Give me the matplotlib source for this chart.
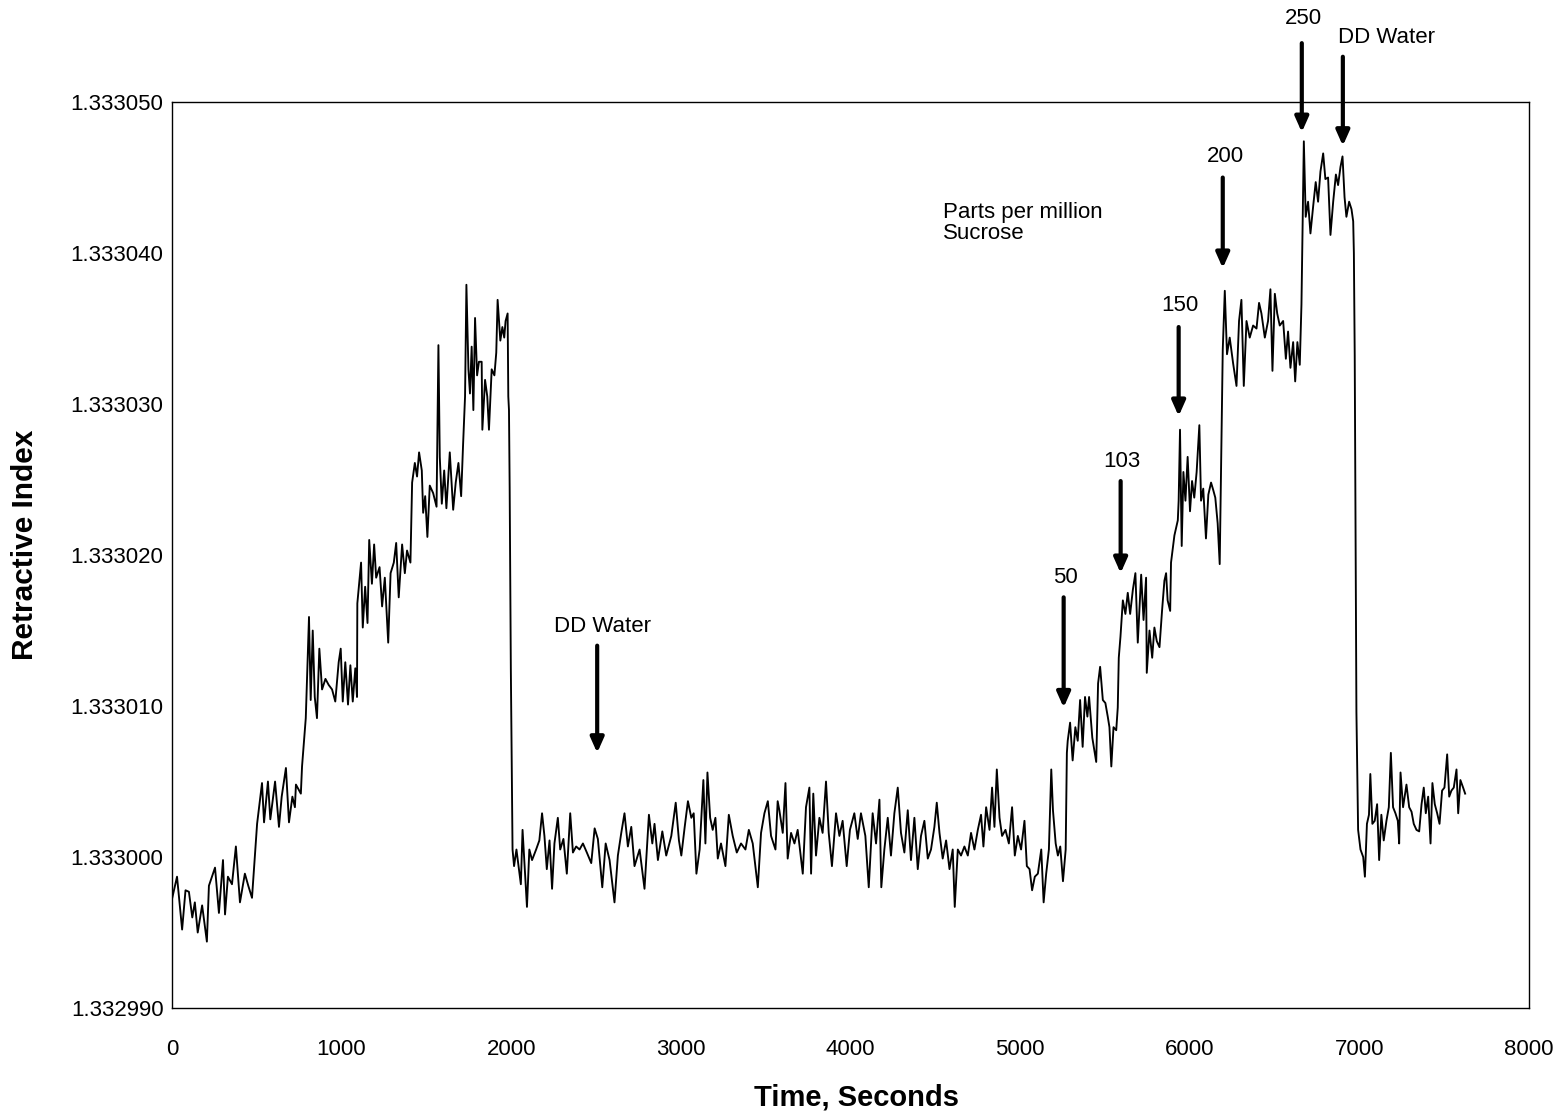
import matplotlib
matplotlib.use("Agg")
import matplotlib.pyplot as plt
from matplotlib.ticker import FormatStrFormatter

plt.rcParams['font.family'] = ['Liberation Sans', 'DejaVu Sans']

# Time (s) and refractive-index deviation from 1.333000 (units of 1e-6)
time_s = [
    0, 30, 60, 80, 100, 120, 135, 152, 178, 206, 218, 254, 277, 301, 313, 330, 354, 377, 401, 430, 450, 472, 484,
    502, 531, 543, 566, 580, 608, 631, 647, 672, 690, 710, 725, 731, 760, 767, 779,
    789, 808, 818, 830, 842, 855, 869, 885, 905, 924, 944, 963, 983, 995, 1007, 1022, 1038, 1052, 1066, 1081, 1091,
    1093, 1115, 1125, 1139, 1153, 1163, 1179, 1192, 1204, 1224, 1239, 1255, 1275, 1289, 1308, 1322, 1337, 1357, 1373, 1386, 1406,
    1416, 1432, 1445, 1457, 1473, 1481, 1493, 1506, 1520, 1540, 1560, 1571, 1579, 1591, 1605, 1618, 1638, 1658, 1673, 1689, 1705, 1716, 1728,
    1736, 1748, 1757, 1767, 1777, 1787, 1799, 1810, 1826, 1830, 1846, 1859, 1869, 1885, 1901, 1912, 1920, 1936, 1948, 1959, 1967, 1979, 1983, 1987, 1991, 1998,
    2008, 2017, 2031, 2057, 2067, 2083, 2093, 2107, 2123, 2147, 2166, 2182, 2196, 2210, 2226, 2241, 2255, 2275, 2289, 2308, 2328, 2348, 2364, 2383, 2403,
    2423, 2446, 2472, 2492, 2511, 2537, 2557, 2580, 2609, 2629, 2649, 2668, 2688, 2708, 2727, 2757, 2786, 2812, 2832, 2845, 2865, 2891, 2914, 2944, 2970,
    2989, 3003, 3023, 3042, 3062, 3076, 3092, 3111, 3133, 3145, 3157, 3173, 3188, 3204, 3218, 3237, 3263, 3283, 3306, 3330, 3355, 3381, 3401, 3424, 3454,
    3473, 3493, 3513, 3532, 3558, 3571, 3581, 3601, 3617, 3630, 3650, 3670, 3689, 3709, 3719, 3738, 3758, 3768, 3781, 3797, 3817, 3836, 3856, 3872, 3891,
    3915, 3935, 3954, 3978, 3997, 4023, 4043, 4062, 4088, 4108, 4131, 4151, 4171, 4182, 4200, 4220, 4239, 4259, 4279, 4298, 4318, 4338, 4357, 4377, 4397,
    4416, 4436, 4456, 4475, 4495, 4509, 4525, 4544, 4564, 4584, 4603, 4615, 4633, 4652, 4672, 4692, 4711, 4731, 4751, 4770, 4784, 4800, 4820, 4835, 4849,
    4863, 4879, 4894, 4914, 4934, 4953, 4969, 4987, 5006, 5026, 5040, 5056, 5071, 5087, 5105, 5125, 5139, 5154, 5170, 5184, 5194, 5210, 5223, 5237, 5253, 5269,
    5276, 5281, 5295, 5310, 5326, 5340, 5354, 5369, 5383, 5397, 5407, 5426, 5449, 5460, 5472, 5488, 5503, 5517, 5527, 5538, 5551, 5567, 5576,
    5582, 5592, 5606, 5621, 5635, 5649, 5665, 5680, 5694, 5714, 5728, 5743, 5747, 5763, 5779, 5792, 5806, 5822, 5837, 5851, 5861, 5870, 5885, 5890, 5910, 5930,
    5935, 5943, 5953, 5963, 5975, 5988, 6002, 6014, 6027, 6041, 6057, 6067, 6080, 6096, 6110, 6126, 6139, 6151, 6165, 6177, 6185, 6195, 6207,
    6220, 6236, 6256, 6276, 6291, 6305, 6319, 6335, 6354, 6374, 6394, 6409, 6423, 6443, 6462, 6476, 6488, 6502, 6516, 6531, 6551, 6567, 6580, 6594, 6610, 6622, 6635, 6649, 6659,
    6673, 6684, 6698, 6712, 6728, 6743, 6757, 6771, 6787, 6800, 6816, 6830, 6846, 6862, 6875, 6889, 6901, 6913, 6924, 6940, 6954, 6964, 6968, 6973, 6979, 6983,
    6993, 7007, 7023, 7033, 7045, 7057, 7065, 7077, 7091, 7105, 7117, 7130, 7144, 7160, 7174, 7186, 7199, 7213, 7227, 7235, 7243, 7258, 7278, 7294, 7308,
    7321, 7337, 7353, 7367, 7380, 7392, 7406, 7420, 7431, 7445, 7459, 7473, 7488, 7502, 7518, 7530, 7543, 7557, 7573, 7583, 7596, 7612, 7624,
]
ri_delta_e6 = [
    -2.8, -1.3, -4.8, -2.2, -2.3, -4.0, -3.0, -5.0, -3.2, -5.6, -1.9, -0.7, -3.7, -0.2, -3.8, -1.3, -1.8, 0.7, -3.0, -1.1, -1.9, -2.7, -0.7,
    2.2, 4.9, 2.3, 5.0, 2.5, 5.0, 2.0, 4.0, 5.9, 2.3, 4.0, 3.3, 4.8, 4.2, 6.0, 7.7,
    9.2, 15.9, 10.4, 15.0, 10.6, 9.2, 13.8, 11.1, 11.8, 11.4, 11.1, 10.3, 12.9, 13.8, 10.3, 12.9, 10.1, 12.7, 10.3, 12.5, 10.6,
    16.8, 19.5, 15.2, 17.9, 15.5, 21.0, 18.1, 20.7, 18.5, 19.2, 16.6, 18.5, 14.2, 18.8, 19.5, 20.8, 17.2, 20.7, 18.8, 20.3, 19.5,
    24.8, 26.1, 25.2, 26.8, 25.6, 22.8, 23.9, 21.2, 24.6, 24.1, 23.2, 33.9, 26.5, 23.4, 25.6, 23.1, 26.8, 23.0, 24.8, 26.1, 23.9, 27.2, 30.5,
    37.9, 32.3, 30.7, 33.8, 29.6, 35.7, 31.9, 32.8, 32.8, 28.3, 31.6, 30.5, 28.3, 32.3, 31.9, 33.4, 36.9, 34.2, 35.1, 34.4, 35.5, 36.0, 30.5, 29.6, 24.5, 12.4,
    0.5, -0.6, 0.5, -1.8, 1.8, -1.3, -3.3, 0.5, -0.2, 0.5, 1.1, 2.9, 1.4, -0.8, 1.1, -2.1, 0.9, 2.6, 0.5, 1.2, -1.1, 2.9, 0.3, 0.7, 0.5,
    0.9, 0.3, -0.4, 1.9, 1.2, -2.0, 0.9, -0.2, -3.0, 0.1, 1.6, 2.9, 0.7, 2.0, -0.6, 0.5, -2.1, 2.8, 0.9, 2.2, -0.2, 1.7, 0.1, 1.4, 3.6,
    1.1, 0.1, 2.0, 3.7, 2.6, 2.9, -1.1, 0.5, 5.1, 0.9, 5.6, 2.6, 1.8, 2.6, -0.1, 0.9, -0.6, 2.8, 1.4, 0.3, 0.9, 0.5, 1.8, 0.9, -2.0,
    1.6, 2.9, 3.7, 1.4, 0.5, 3.7, 3.1, 1.6, 4.9, -0.1, 1.6, 0.9, 1.8, -0.1, -1.1, 3.3, 4.6, -1.1, 4.2, 0.1, 2.6, 1.6, 5.0, 1.6, -0.6,
    2.9, 1.4, 2.4, -0.6, 1.8, 2.9, 1.2, 2.9, 1.4, -2.0, 2.9, 0.9, 3.8, -2.0, 0.5, 2.6, 0.1, 2.9, 4.6, 1.6, 0.3, 3.1, -0.2, 2.6, -0.8,
    1.4, 2.4, -0.1, 0.5, 2.0, 3.6, 1.6, -0.1, 1.1, -0.8, 0.5, -3.3, 0.5, 0.1, 0.7, 0.1, 1.6, 0.5, 1.8, 2.8, 0.7, 3.3, 1.8, 4.6, 2.0,
    5.8, 2.6, 1.4, 1.8, 0.9, 3.3, 0.1, 1.4, 0.5, 2.4, -0.6, -0.8, -2.2, -1.3, -1.1, 0.5, -3.0, -1.1, 0.5, 5.8, 3.1, 0.9, 0.1, 0.7, -1.6, 0.5,
    6.9, 7.7, 8.9, 6.4, 8.6, 7.7, 10.4, 7.3, 10.6, 9.3, 10.6, 7.9, 6.3, 11.5, 12.6, 10.4, 10.2, 9.3, 8.6, 6.0, 8.6, 8.4, 9.9,
    13.2, 14.6, 17.0, 16.1, 17.5, 16.1, 17.7, 18.8, 14.2, 18.7, 15.7, 18.5, 12.2, 15.0, 13.2, 15.2, 14.3, 13.9, 16.3, 18.3, 18.8, 17.0, 16.3, 19.5, 21.3, 22.3,
    23.6, 28.3, 20.6, 25.5, 23.6, 26.5, 22.9, 24.9, 23.8, 25.5, 28.6, 23.6, 24.4, 21.1, 24.0, 24.8, 24.3, 23.8, 22.1, 19.4, 25.5, 33.6, 37.5,
    33.3, 34.4, 32.7, 31.2, 35.5, 36.9, 31.2, 35.5, 34.4, 35.2, 35.0, 36.7, 36.0, 34.4, 35.5, 37.6, 32.2, 37.3, 36.0, 35.2, 35.5, 33.0, 34.8, 32.4, 34.1, 31.5, 34.1, 32.6, 36.6,
    47.4, 42.4, 43.4, 41.3, 43.1, 44.7, 43.4, 45.4, 46.6, 44.9, 45.0, 41.2, 43.4, 45.2, 44.5, 45.7, 46.4, 43.7, 42.4, 43.4, 42.9, 42.1, 40.0, 33.2, 19.7, 9.6,
    1.8, 0.5, 0.0, -1.3, 2.2, 2.8, 5.5, 2.2, 2.4, 3.5, -0.2, 2.8, 1.1, 2.4, 3.3, 6.9, 3.3, 2.9, 2.4, 0.9, 5.6, 3.3, 4.8, 3.3, 3.0,
    2.2, 1.8, 1.7, 3.5, 4.6, 2.9, 4.0, 0.9, 4.9, 3.5, 2.9, 2.2, 4.4, 4.6, 6.8, 4.0, 4.4, 4.6, 5.8, 2.9, 5.1, 4.6, 4.2,
]
base_index = 1.333

# Annotations: label, text position (t, delta), arrow x, arrow start delta, arrow end delta
ann_labels = ["DD Water", "50", "103", "150", "200", "250", "DD Water"]
ann_text_t = [2537, 5268, 5599, 5941, 6212, 6673, 7162]
ann_text_v = [15.3, 18.5, 26.2, 36.5, 46.4, 55.5, 54.3]
ann_arrow_t = [2507, 5257, 5593, 5935, 6195, 6661, 6903]
ann_arrow_from = [14.0, 17.2, 24.9, 35.1, 45.0, 53.9, 53.0]
ann_arrow_to = [6.9, 9.9, 18.8, 29.2, 39.0, 48.0, 47.1]

x_ticks = [0, 1000, 2000, 3000, 4000, 5000, 6000, 7000, 8000]
y_ticks = [1.332990, 1.333000, 1.333010, 1.333020, 1.333030, 1.333040, 1.333050]

fig = plt.figure(figsize=(15.56, 11.14), dpi=100)
ax = fig.add_axes([0.1105, 0.0951, 0.8721, 0.8133])

ri = [base_index + d * 1e-6 for d in ri_delta_e6]
ax.plot(time_s, ri, color='black', lw=1.35)

ax.set_xlim(0, 8000)
ax.set_ylim(1.332990, 1.333050)
ax.set_xticks(x_ticks)
ax.set_yticks(y_ticks)
ax.yaxis.set_major_formatter(FormatStrFormatter('%.6f'))
ax.tick_params(axis='both', length=0, labelsize=16)
ax.tick_params(axis='x', pad=22)
ax.tick_params(axis='y', pad=6)
for s in ax.spines.values():
    s.set_linewidth(1.0)
    s.set_color('black')

for lab, tt, tv, at, af, ato in zip(ann_labels, ann_text_t, ann_text_v,
                                    ann_arrow_t, ann_arrow_from, ann_arrow_to):
    ax.text(tt, base_index + tv * 1e-6, lab, fontsize=16, ha='center', va='center',
            clip_on=False)
    ax.annotate('', xy=(at, base_index + ato * 1e-6), xytext=(at, base_index + af * 1e-6),
                arrowprops=dict(arrowstyle='-|>,head_width=0.4,head_length=0.9',
                                lw=3.0, color='black', shrinkA=0, shrinkB=0),
                annotation_clip=False)

ax.text(4543, base_index + 42.0e-6, "Parts per million\nSucrose", fontsize=16,
        ha='left', va='center', linespacing=1.0)

fig.text(857 / 1556, 1 - 1097 / 1114, "Time, Seconds", fontsize=21, fontweight='bold',
         ha='center', va='center')
fig.text(25 / 1556, 1 - 545 / 1114, "Retractive Index", fontsize=21.5, fontweight='bold',
         ha='center', va='center', rotation=90)

fig.savefig("out.png", dpi=100)
